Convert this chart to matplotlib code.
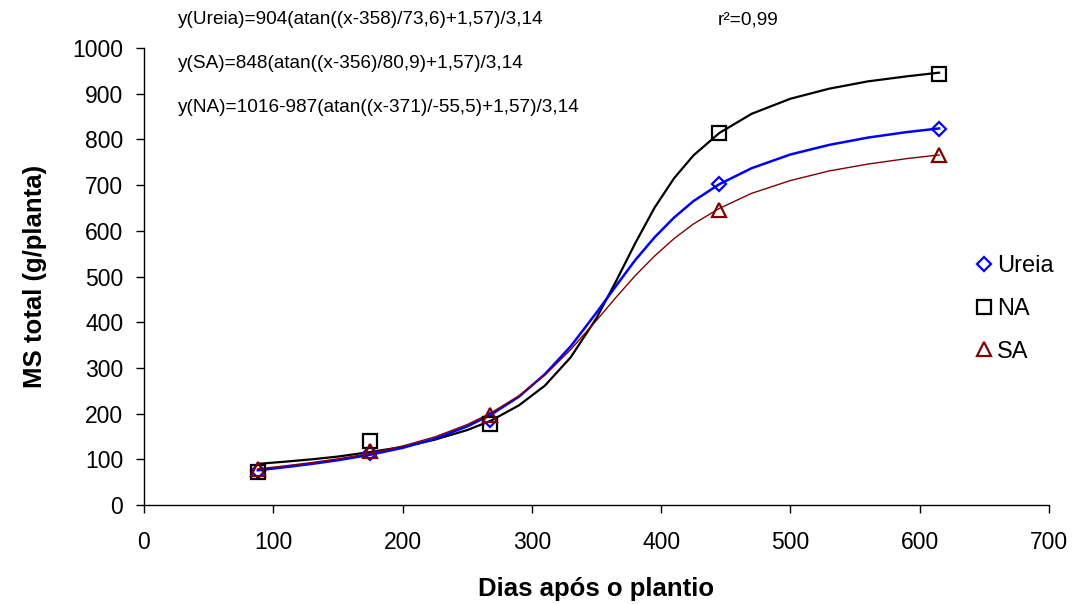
import matplotlib
matplotlib.use("Agg")
import matplotlib.pyplot as plt

plt.rcParams['font.family'] = ['Liberation Sans', 'DejaVu Sans']

# observed data points
days = [88, 175, 268, 445, 615]
ureia_obs = [75, 113, 187, 703, 822]
na_obs = [73, 139, 178, 813, 944]
sa_obs = [79, 118, 197, 645, 765]

# fitted curves
curve_days = [88, 110, 130, 150, 175, 200, 225, 250, 268, 290, 310, 330, 350,
              365, 380, 395, 410, 425, 445, 470, 500, 530, 560, 590, 615]
ureia_fit = [76, 83, 90, 98, 110, 125, 145, 172, 197, 237, 286, 347, 421,
             479, 536, 586, 629, 665, 702, 737, 767, 788, 804, 816, 824]
sa_fit = [79, 86, 93, 101, 113, 129, 149, 176, 201, 239, 284, 340, 404,
          454, 502, 545, 583, 615, 649, 682, 710, 731, 746, 758, 766]
na_fit = [90, 95, 100, 106, 116, 127, 143, 164, 184, 218, 261, 323, 409,
          489, 573, 651, 715, 765, 814, 856, 889, 911, 927, 938, 946]

eq_lines = ["y(Ureia)=904(atan((x-358)/73,6)+1,57)/3,14",
            "y(SA)=848(atan((x-356)/80,9)+1,57)/3,14",
            "y(NA)=1016-987(atan((x-371)/-55,5)+1,57)/3,14"]
r2_text = "r²=0,99"

W, H = 1075, 604
fig = plt.figure(figsize=(W / 100, H / 100), dpi=100)
ax = fig.add_axes([144 / W, 1 - 505 / H, (1049 - 144) / W, (505 - 48) / H])

blue = '#0000FF'
dred = '#800000'

ax.plot(curve_days, na_fit, color='black', lw=1.6, zorder=2)
ax.plot(curve_days, ureia_fit, color=blue, lw=1.8, zorder=2)
ax.plot(curve_days, sa_fit, color=dred, lw=1.0, zorder=2)

ax.plot(days, ureia_obs, linestyle='none', marker='D', ms=7, mfc='none',
        mec=blue, mew=1.6, label='Ureia', zorder=3)
ax.plot(days, na_obs, linestyle='none', marker='s', ms=10, mfc='none',
        mec='black', mew=1.6, label='NA', zorder=3)
ax.plot(days, sa_obs, linestyle='none', marker='^', ms=10, mfc='none',
        mec=dred, mew=1.6, label='SA', zorder=4)

ax.set_xlim(0, 700)
ax.set_ylim(0, 1000)
ax.set_xticks(range(0, 701, 100))
ax.set_yticks(range(0, 1001, 100))
ax.tick_params(axis='both', direction='out', length=6, width=1, labelsize=16.5,
               colors='black')
ax.tick_params(axis='x', pad=13)
ax.tick_params(axis='y', pad=9)
for s in ['top', 'right']:
    ax.spines[s].set_visible(False)
for s in ['left', 'bottom']:
    ax.spines[s].set_linewidth(1)
    ax.spines[s].set_color('black')

ax.set_xlabel('Dias após o plantio', fontsize=18.5, fontweight='bold', labelpad=16)
ax.set_ylabel('MS total (g/planta)', fontsize=18.5, fontweight='bold', labelpad=18)

leg = ax.legend(loc='upper left', bbox_to_anchor=(972 / W, 1 - 255 / H),
                bbox_transform=fig.transFigure, frameon=False, fontsize=17,
                handletextpad=0.05, labelspacing=0.88, handlelength=1.0,
                borderaxespad=0, borderpad=0)

ys = [20, 63, 107]
for t, y in zip(eq_lines, ys):
    fig.text(178 / W, 1 - y / H, t, fontsize=13.7, va='center', ha='left')
fig.text(718 / W, 1 - 20 / H, r2_text, fontsize=13.7, va='center', ha='left')

fig.savefig('out.png', dpi=100)
